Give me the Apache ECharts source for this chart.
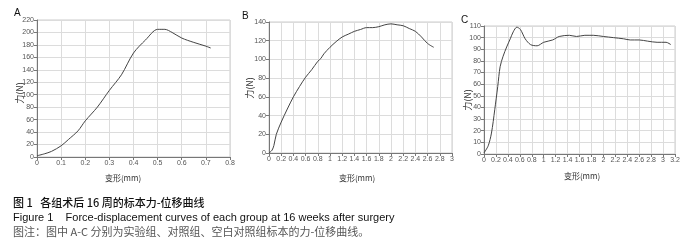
<!DOCTYPE html>
<html><head><meta charset="utf-8">
<script src="https://cdn.jsdelivr.net/npm/echarts@6/dist/echarts.min.js"></script>
<style>html,body{margin:0;padding:0;background:#fff}#c{width:699px;height:248px}</style>
</head><body><div id="c"></div>
<script>
// Panel A (实验组)
const dispA = [0,0.03,0.06,0.1,0.13,0.17,0.2,0.25,0.3,0.35,0.4,0.45,0.5,0.53,0.56,0.6,0.65,0.7,0.72];
const forceA = [2,5,9,18,28,42,58,80,107,132,167,188,205,205,200,191,184,178,175];
// Panel B (对照组)
const dispB = [0,0.05,0.08,0.12,0.2,0.3,0.4,0.5,0.6,0.7,0.8,0.85,0.9,1.0,1.1,1.2,1.3,1.4,1.5,1.6,1.7,1.8,1.9,2.0,2.1,2.2,2.3,2.4,2.5,2.6,2.7];
const forceB = [0,3,8,20,33,47,60,71,81,89,98,101,106,113,119,124,127,130,132,134,134,135,137,138,137,136,133,130,124,117,113];
// Panel C (空白对照组)
const dispC = [0,0.07,0.125,0.18,0.23,0.27,0.32,0.38,0.44,0.49,0.55,0.61,0.69,0.78,0.89,1.0,1.15,1.26,1.43,1.55,1.69,1.83,2.0,2.17,2.34,2.45,2.6,2.74,2.9,3.05,3.13];
const forceC = [1,7,18,38,58,75,84,92,99,105,109,107,99,94,93,96,98,101,102,101,102,102,101,100,99,98,98,97,96,96,94];
const panelLabels = ['A','B','C'];
const xTitle = '变形(mm)';
const yTitle = '力(N)';
const caption1 = '图 1   各组术后 16 周的标本力-位移曲线';
const caption2 = 'Figure 1    Force-displacement curves of each group at 16 weeks after surgery';
const caption3 = '图注：图中 A-C 分别为实验组、对照组、空白对照组标本的力-位移曲线。';

const pair = (xs, ys) => xs.map((x, i) => [x, ys[i]]);
const F = 'Liberation Sans, Arial, sans-serif';
const CJK = 'Noto Sans CJK SC, sans-serif';

const grids = [
  {left:37, top:20, width:193, height:137},
  {left:269, top:22, width:183, height:131},
  {left:484, top:26, width:191, height:128}
];
const xr = [{max:0.8, interval:0.1},{max:3, interval:0.2},{max:3.2, interval:0.2}];
const yr = [{max:220, interval:20},{max:140, interval:20},{max:110, interval:10}];

const axisCommon = {
  type:'value', min:0,
  axisLine:{show:true, lineStyle:{color:'#777', width:1}},
  axisTick:{show:true, length:3, lineStyle:{color:'#777'}},
  axisLabel:{fontSize:7, color:'#555', fontFamily:F, margin:3},
  splitLine:{show:true, lineStyle:{color:'#dcdcdc', width:1}}
};

const option = {
  animation:false,
  grid: grids.map(g => Object.assign({show:true, borderColor:'#ccc', borderWidth:1, backgroundColor:'transparent'}, g)),
  xAxis: xr.map((r,i) => Object.assign({}, axisCommon, r, {gridIndex:i})),
  yAxis: yr.map((r,i) => Object.assign({}, axisCommon, r, {gridIndex:i})),
  series: [pair(dispA,forceA), pair(dispB,forceB), pair(dispC,forceC)].map((d,i) => ({
    type:'line', xAxisIndex:i, yAxisIndex:i, data:d, showSymbol:false, smooth:0.3,
    lineStyle:{color:'#444', width:1}
  })),
  graphic: [
    {type:'text', left:14, top:8, style:{text:panelLabels[0], font:'10px '+F, fill:'#111'}},
    {type:'text', left:242, top:11, style:{text:panelLabels[1], font:'10px '+F, fill:'#111'}},
    {type:'text', left:461, top:15, style:{text:panelLabels[2], font:'10px '+F, fill:'#111'}},
    {type:'text', x:20, y:93, rotation:Math.PI/2, style:{text:yTitle, font:'9px '+CJK, fill:'#333', align:'center', verticalAlign:'middle'}},
    {type:'text', x:250, y:88, rotation:Math.PI/2, style:{text:yTitle, font:'9px '+CJK, fill:'#333', align:'center', verticalAlign:'middle'}},
    {type:'text', x:468, y:100, rotation:Math.PI/2, style:{text:yTitle, font:'9px '+CJK, fill:'#333', align:'center', verticalAlign:'middle'}},
    {type:'text', x:123, y:178, style:{text:xTitle, font:'8px '+CJK, fill:'#333', align:'center', verticalAlign:'middle'}},
    {type:'text', x:357, y:178, style:{text:xTitle, font:'8px '+CJK, fill:'#333', align:'center', verticalAlign:'middle'}},
    {type:'text', x:582, y:176, style:{text:xTitle, font:'8px '+CJK, fill:'#333', align:'center', verticalAlign:'middle'}},
    {type:'text', x:13, y:203, style:{text:caption1, font:'500 11px '+CJK, fill:'#111', verticalAlign:'middle'}},
    {type:'text', x:13, y:218, style:{text:caption2, font:'11px '+F, fill:'#111', verticalAlign:'middle'}},
    {type:'text', x:13, y:232, style:{text:caption3, font:'11px '+CJK, fill:'#555', verticalAlign:'middle'}}
  ]
};
echarts.init(document.getElementById('c'), null, {renderer:'canvas'}).setOption(option);
</script></body></html>
